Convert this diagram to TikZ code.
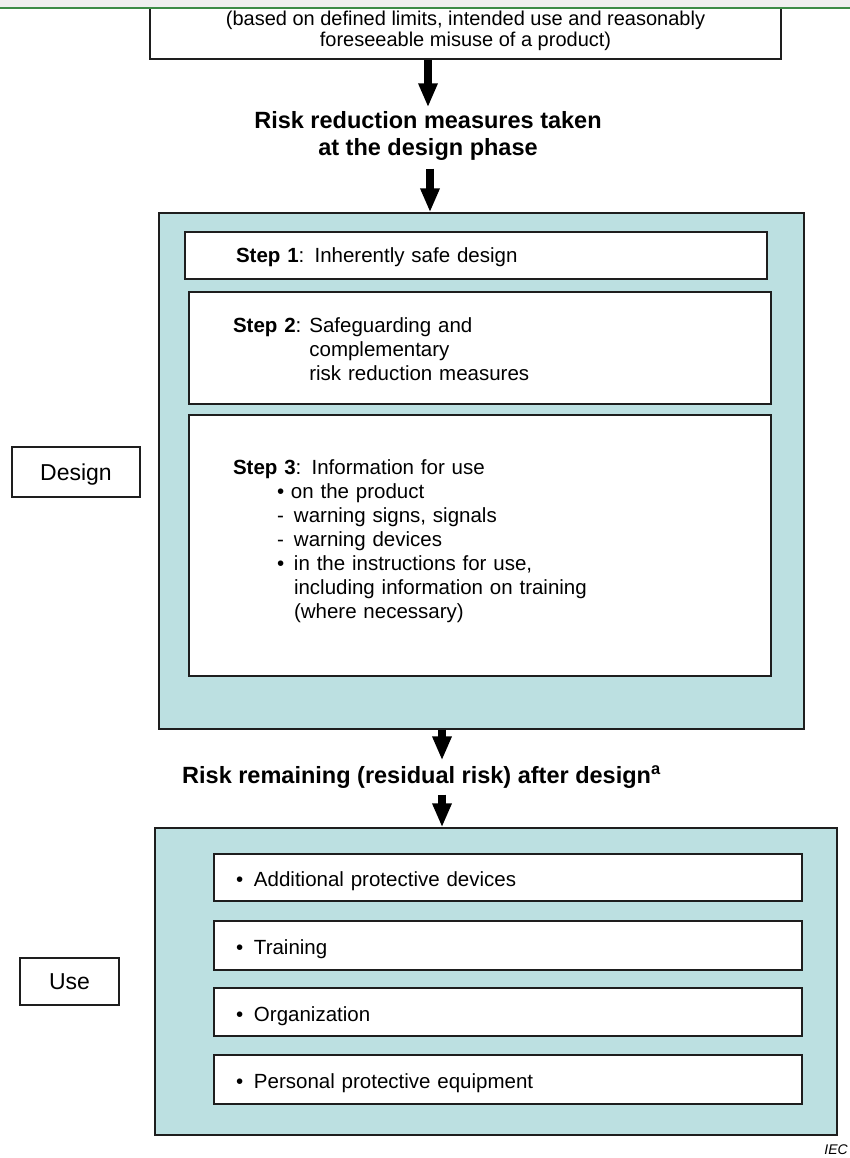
\documentclass[tikz,border=0pt]{standalone}
\usepackage{fontspec}
\setmainfont{Liberation Sans}
\usetikzlibrary{arrows.meta, positioning}
\definecolor{panel}{RGB}{188,224,225}
\definecolor{headgreen}{RGB}{61,139,71}
\definecolor{headgrey}{RGB}{239,239,239}
\definecolor{rim}{RGB}{30,30,30}

\begin{document}
\begin{tikzpicture}[
  x=1pt, y=-1pt,
  box/.style={draw=rim, line width=1.3pt, fill=white, inner ysep=0pt},
  panelbox/.style={draw=rim, line width=1.3pt, fill=panel},
  txt/.style={font=\fontsize{20.5}{24}\selectfont},
  head/.style={font=\fontsize{23.5}{27}\selectfont\bfseries, align=center, inner sep=0pt},
  sidebox/.style={box, font=\fontsize{23}{27}\selectfont, text depth=0pt},
  edge/.style={-{Triangle[width=18pt, length=24pt]}, line width=8pt}
]
\useasboundingbox (0,0) rectangle (850,1158);

\node[box, minimum width=631pt, minimum height=57pt, align=center,
  font=\fontsize{20}{21}\selectfont] (scope) at (465.5,30.5)
  {(based on defined limits, intended use and reasonably\\foreseeable misuse of a product)};
\fill[headgrey] (0,0) rectangle (850,7);
\draw[headgreen, line width=2pt] (0,8) -- (850,8);

\node[head] (phase) at (428,136) {Risk reduction measures taken\\at the design phase};

\node[panelbox, minimum width=645pt, minimum height=516pt] (design) at (481.5,471) {};
\node[box, txt, minimum width=582pt, minimum height=47pt, text width=480pt,
  inner xsep=51pt, align=left, text depth=0pt] (step1) at (476,255.5) {\textbf{Step 1}: Inherently safe design};
\node[box, txt, minimum width=582pt, minimum height=112pt, text width=494pt,
  inner xsep=44pt, align=left] (step2) at (480,348)
  {\begin{tabular}{@{}l@{}l@{}}\rule{0pt}{23.8pt}\textbf{Step 2}:\hspace{8pt} & Safeguarding and\\ & complementary\\ & risk reduction measures\end{tabular}};
\node[box, txt, minimum width=582pt, minimum height=261pt, text width=494pt,
  inner xsep=44pt, align=left] (step3) at (480,545.5)
  {\textbf{Step 3}: Information for use\\
   \hspace*{44pt}\makebox[14pt][l]{\textbullet}on the product\\
   \hspace*{44pt}\makebox[17pt][l]{-}warning signs, signals\\
   \hspace*{44pt}\makebox[17pt][l]{-}warning devices\\
   \hspace*{44pt}\makebox[17pt][l]{\textbullet}in the instructions for use,\\
   \hspace*{61pt}including information on training\\
   \hspace*{61pt}(where necessary)\rule[-12.3pt]{0pt}{12.3pt}};
\node[sidebox, minimum width=128pt, minimum height=50pt] (designlbl) at (76,472) {Design};

\coordinate (axis) at (442,0);
\node[head, anchor=west] (resid) at (182,777) {Risk remaining (residual risk) after design\textsuperscript{a}};

\node[panelbox, minimum width=682pt, minimum height=307pt] (use) at (496,981.5) {};
\foreach \name/\yy/\hh/\label in {
    add/877.5/47/Additional protective devices,
    train/945.5/49/Training,
    org/1012/48/Organization,
    ppe/1079.5/49/Personal protective equipment} {
  \node[box, txt, minimum width=588pt, minimum height=\hh pt, text width=544pt,
    inner xsep=22pt, align=left, text height=18pt, text depth=0pt] (\name) at (508,\yy)
    {\makebox[18pt][l]{\textbullet}\label};
}
\node[sidebox, minimum width=99pt, minimum height=47pt] (uselbl) at (69.5,981.5) {Use};

\node[anchor=east, inner sep=0pt, font=\fontsize{14}{16}\selectfont\itshape] (iec) at (848,1150) {IEC};

\draw[edge] (scope.south -| phase.north) -- ([yshift=4pt]phase.north);
\draw[edge] ([xshift=2pt, yshift=-8pt]phase.south) -- ([xshift=2pt]design.north -| phase.south);
\draw[edge] (design.south -| axis) -- ([yshift=5pt]resid.north -| axis);
\draw[edge] ([yshift=-6pt]resid.south -| axis) -- (use.north -| axis);
\end{tikzpicture}
\end{document}
